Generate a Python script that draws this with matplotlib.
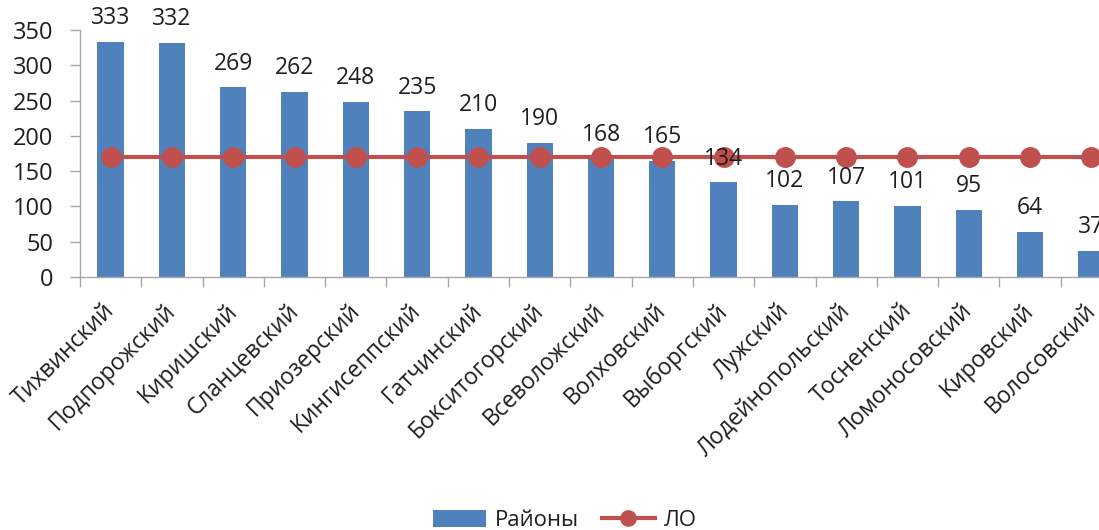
import matplotlib
matplotlib.use("Agg")
import matplotlib.pyplot as plt
from matplotlib.lines import Line2D
from matplotlib.patches import Patch
from matplotlib.transforms import ScaledTranslation
import numpy as np

plt.rcParams['font.family'] = ['Open Sans', 'DejaVu Sans']

districts = ["Тихвинский", "Подпорожский", "Киришский", "Сланцевский", "Приозерский",
             "Кингисеппский", "Гатчинский", "Бокситогорский", "Всеволожский", "Волховский",
             "Выборгский", "Лужский", "Лодейнопольский", "Тосненский", "Ломоносовский",
             "Кировский", "Волосовский"]
district_values = [333, 332, 269, 262, 248, 235, 210, 190, 168, 165, 134, 102, 107, 101, 95, 64, 37]
region_value = 170
y_ticks = [0, 50, 100, 150, 200, 250, 300, 350]

bar_color = "#4F81BD"
line_color = "#C0504D"
axis_color = "#A6A6A6"
text_color = "#1F1F1F"

fig = plt.figure(figsize=(10.99, 5.30), dpi=100)
ax = fig.add_axes([80 / 1099, 253 / 530, 1042 / 1099, 247 / 530])

x = np.arange(len(districts))
ax.bar(x, district_values, width=0.43, color=bar_color, zorder=2)
ax.plot(x, [region_value] * len(x), color=line_color, lw=3, marker="o",
        markersize=14, zorder=3, clip_on=False)

for xi, v in zip(x, district_values):
    ax.annotate(str(v), (xi, v), xytext=(0, 17), textcoords="offset points",
                ha="center", va="center", fontsize=16.5, color=text_color,
                annotation_clip=False, zorder=4)

ax.set_xlim(-0.5, len(districts) - 0.5)
ax.set_ylim(0, 350)
ax.set_yticks(y_ticks)
ax.tick_params(axis="y", labelsize=17, colors=axis_color, labelcolor=text_color,
               length=7, width=1, pad=12)

ax.set_xticks(x)
ax.set_xticklabels(districts, rotation=45, ha="right", rotation_mode="anchor",
                   fontsize=16.5, color=text_color)
ax.tick_params(axis="x", which="major", length=0, pad=15)
ax.set_xticks(np.arange(-0.5, len(districts), 1.0), minor=True)
ax.tick_params(axis="x", which="minor", length=7, width=1, colors=axis_color)
shift = ScaledTranslation(-0.08, -0.01, fig.dpi_scale_trans)
for label in ax.get_xticklabels():
    label.set_transform(label.get_transform() + shift)

for side in ("top", "right"):
    ax.spines[side].set_visible(False)
for side in ("left", "bottom"):
    ax.spines[side].set_color(axis_color)
    ax.spines[side].set_linewidth(1)

handles = [Patch(facecolor=bar_color, edgecolor="none"),
           Line2D([0], [0], color=line_color, lw=3, marker="o", markersize=11)]
fig.legend(handles, ["Районы", "ЛО"], loc="lower center", bbox_to_anchor=(0.514, -0.04),
           ncol=2, frameon=False, fontsize=16, handlelength=2.4, handleheight=0.8,
           columnspacing=1.0, handletextpad=0.4, labelcolor=text_color)

fig.savefig("out.png", dpi=100)
